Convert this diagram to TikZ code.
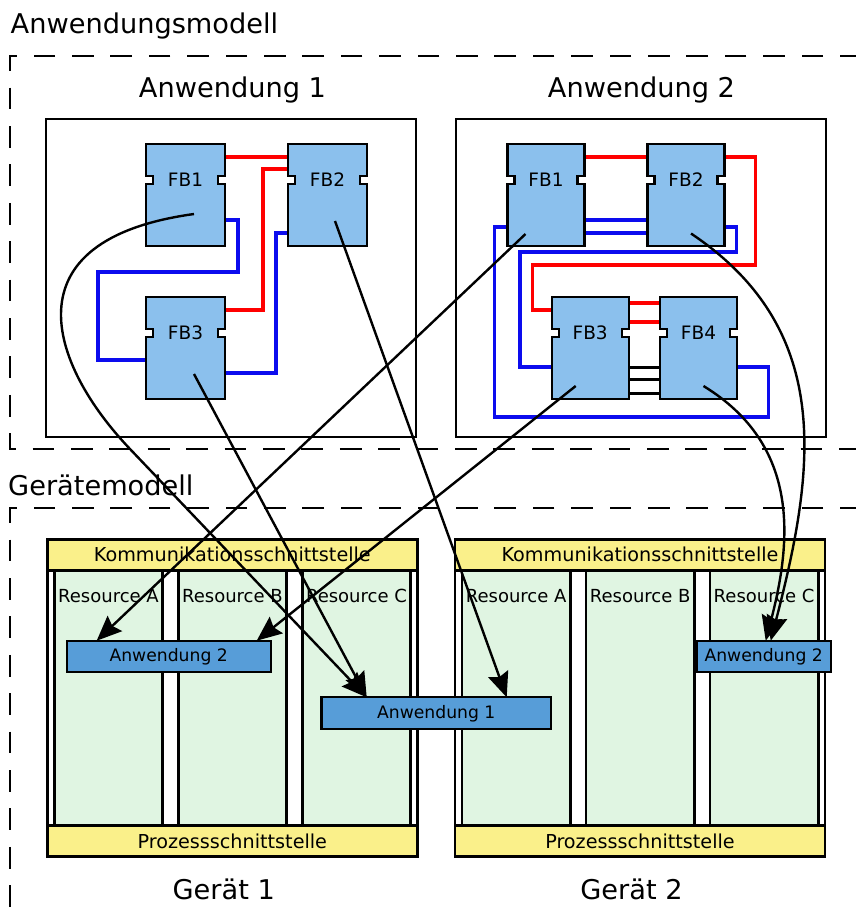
\documentclass[tikz,border=0pt]{standalone}
\usepackage{fontspec}
\setmainfont{DejaVu Sans}
\usetikzlibrary{arrows.meta,calc}

\definecolor{fbblue}{RGB}{139,192,237}
\definecolor{appblue}{RGB}{87,157,216}
\definecolor{ifyellow}{RGB}{250,240,138}
\definecolor{resgreen}{RGB}{224,245,226}
\definecolor{wirered}{RGB}{255,0,0}
\definecolor{wireblue}{RGB}{12,12,238}

\newcommand{\fsTitle}{\fontsize{27.2}{32}\selectfont}
\newcommand{\fsFB}{\fontsize{18.5}{22}\selectfont}
\newcommand{\fsBar}{\fontsize{19.2}{23}\selectfont}
\newcommand{\fsRes}{\fontsize{18}{21}\selectfont}
\newcommand{\fsApp}{\fontsize{17.2}{20}\selectfont}

\tikzset{
  model/.style={line width=2.8pt, dash pattern=on 21.7pt off 16.7pt},
  appframe/.style={draw, line width=2.5pt, inner sep=0pt, outer sep=0pt},
  fbnode/.style={inner sep=0pt, outer sep=0pt, minimum height=102pt},
  fbshape/.style={draw, fill=fbblue, line width=2.3pt, line join=miter},
  fblabel/.style={anchor=base, inner sep=0pt, font=\fsFB},
  title/.style={anchor=base, inner sep=0pt, font=\fsTitle},
  redwire/.style={draw=wirered, line width=3.1pt},
  bluewire/.style={draw=wireblue, line width=3.1pt},
  blackwire/.style={draw=black, line width=3pt},
  devframe/.style={draw, fill=white, line width=2.5pt, inner sep=0pt, outer sep=0pt,
    minimum width=370pt, minimum height=317.4pt, anchor=north west},
  ifbar/.style={draw, fill=ifyellow, line width=2.5pt, inner sep=0pt, outer sep=0pt,
    minimum width=370pt, minimum height=31pt, font=\fsBar},
  rescol/.style={draw, fill=resgreen, line width=2.5pt, inner sep=0pt, outer sep=0pt,
    minimum width=108.3pt, minimum height=255pt, anchor=north west},
  reslabel/.style={anchor=base, inner sep=0pt, font=\fsRes},
  appbox/.style={draw, fill=appblue, line width=2.3pt, inner sep=0pt, outer sep=0pt,
    minimum height=31.5pt, anchor=north west, font=\fsApp},
  maps/.style={draw=black, line width=2.4pt,
    -{Stealth[length=25pt, width=21pt, inset=3.5pt]}},
}

% function block with a notch on each side: name, left, top, width, label
\newcommand{\fblock}[5]{%
  \node[fbnode, minimum width=#4pt, anchor=north west] (#1) at (#2,#3) {};
  \draw[fbshape] (#1.north west) -- (#1.north east) -- ++(0,32) -- ++(-7,0)
    -- ++(0,8) -- ++(7,0) -- (#1.south east) -- (#1.south west) -- ++(0,-62)
    -- ++(7,0) -- ++(0,-8) -- ++(-7,0) -- cycle;
  \node[fblabel] (#1t) at ($(#1.north)+(0,42.7)$) {#5};
}

% device with communication bar, three resources and process bar: name, left, title
\newcommand{\device}[3]{%
  \node[devframe] (#1) at (#2,539.3) {};
  \node[rescol] (#1a) at ($(#1.north west)+(7,30.7)$) {};
  \node[rescol] (#1b) at ($(#1.north west)+(131,30.7)$) {};
  \node[rescol] (#1c) at ($(#1.north west)+(255,30.7)$) {};
  \node[ifbar, anchor=north west] (#1k) at (#1.north west) {Kommunikationsschnittstelle};
  \node[ifbar, anchor=south west] (#1p) at (#1.south west) {Prozessschnittstelle};
  \node[reslabel] (#1at) at ($(#1a.north)+(0,32)$) {Resource A};
  \node[reslabel] (#1bt) at ($(#1b.north)+(0,32)$) {Resource B};
  \node[reslabel] (#1ct) at ($(#1c.north)+(0,32)$) {Resource C};
  \node[title] (#1t) at ($(#1.south)+(-8.5,42.3)$) {#3};
}

\begin{document}
\begin{tikzpicture}[x=1pt, y=-1pt]
\useasboundingbox (0,0) rectangle (855,919);

% ---------- application model ----------
\node[title, anchor=base west] (amtitle) at (10.5,33.5) {Anwendungsmodell};
\draw[model] (900,56) -- (10,56) -- (10,449) -- (900,449);

\node[appframe, minimum width=370pt, minimum height=318pt, anchor=north west] (app1) at (46,119) {};
\node[appframe, minimum width=370pt, minimum height=318pt, anchor=north west] (app2) at (456,119) {};
\node[title] (app1t) at ($(app1.north)+(1.5,-21.3)$) {Anwendung 1};
\node[title] (app2t) at ($(app2.north)+(0.5,-21.3)$) {Anwendung 2};

% placeholders first so that the wires can refer to them
\foreach \n/\x/\y/\w in {a1fb1/146/144/79, a1fb2/288/144/79, a1fb3/146/297/79,
    a2fb1/507.5/144/77, a2fb2/647.5/144/77, a2fb3/551.7/297/77, a2fb4/660/297/77}
  \node[fbnode, minimum width=\w pt, anchor=north west] (\n) at (\x,\y) {};

% wires of application 1
\draw[redwire] ($(a1fb1.north east)+(0,13)$) -- ($(a1fb2.north west)+(0,13)$);
\draw[redwire] ($(a1fb3.north east)+(0,13)$) -- ++(38,0) |- ($(a1fb2.north west)+(0,25)$);
\draw[bluewire] ($(a1fb1.north east)+(0,76)$) -- ++(13,0) -- ++(0,52) -- ++(-140,0)
  |- ($(a1fb3.north west)+(0,63)$);
\draw[bluewire] ($(a1fb3.north east)+(0,76)$) -- ++(51,0) |- ($(a1fb2.north west)+(0,89)$);

% wires of application 2
\draw[redwire] ($(a2fb1.north east)+(0,13)$) -- ($(a2fb2.north west)+(0,13)$);
\draw[redwire] ($(a2fb2.north east)+(0,13)$) -- ++(31,0) -- ++(0,108) -- ++(-223,0)
  |- ($(a2fb3.north west)+(0,13)$);
\draw[redwire] ($(a2fb3.north east)+(0,6)$) -- ($(a2fb4.north west)+(0,6)$);
\draw[redwire] ($(a2fb3.north east)+(0,25)$) -- ($(a2fb4.north west)+(0,25)$);
\draw[bluewire] ($(a2fb1.north east)+(0,76)$) -- ($(a2fb2.north west)+(0,76)$);
\draw[bluewire] ($(a2fb1.north east)+(0,89)$) -- ($(a2fb2.north west)+(0,89)$);
\draw[bluewire] ($(a2fb1.north west)+(0,83)$) -- ++(-13,0) -- ++(0,190) -- ++(274,0)
  |- ($(a2fb4.north east)+(0,70)$);
\draw[bluewire] ($(a2fb2.north east)+(0,83)$) -- ++(12,0) -- ++(0,25) -- ++(-216.5,0)
  |- ($(a2fb3.north west)+(0,70)$);
\foreach \d in {70,82,96}
  \draw[blackwire] ($(a2fb3.north east)+(0,\d)$) -- ($(a2fb4.north west)+(0,\d)$);

% function blocks
\fblock{a1fb1}{146}{144}{79}{FB1}
\fblock{a1fb2}{288}{144}{79}{FB2}
\fblock{a1fb3}{146}{297}{79}{FB3}
\fblock{a2fb1}{507.5}{144}{77}{FB1}
\fblock{a2fb2}{647.5}{144}{77}{FB2}
\fblock{a2fb3}{551.7}{297}{77}{FB3}
\fblock{a2fb4}{660}{297}{77}{FB4}

% ---------- device model ----------
\node[title, anchor=base west] (dmtitle) at (8,495) {Gerätemodell};
\draw[model] (900,508) -- (10,508) -- (10,950);

\device{dev1}{47.3}{Gerät 1}
\device{dev2}{455}{Gerät 2}

\node[appbox, minimum width=204pt] (d1app2) at (66.7,640.7) {Anwendung 2};
\node[appbox, minimum width=229.5pt, minimum height=32pt] (dapp1) at (321.5,697.3) {Anwendung 1};
\node[appbox, minimum width=134pt] (d2app2) at (696.7,640.7) {Anwendung 2};

% ---------- mapping of function blocks onto devices ----------
\coordinate (s1) at ($(a1fb1.north west)+(48,70)$);
\coordinate (s2) at ($(a1fb3.north west)+(48,77)$);
\coordinate (s3) at ($(a1fb2.north west)+(47,77)$);
\coordinate (s4) at ($(a2fb1.north west)+(18,90)$);
\coordinate (s5) at ($(a2fb3.north west)+(24,89)$);
\coordinate (s6) at ($(a2fb2.north west)+(43.5,89.5)$);
\coordinate (s7) at ($(a2fb4.north west)+(43.5,89)$);

\draw[maps] (s1) .. controls (5,240) and (50,365) .. (130,449) -- ($(dapp1.north west)+(45.2,0)$);
\draw[maps] (s2) -- ($(dapp1.north west)+(45.2,0)$);
\draw[maps] (s3) -- ($(dapp1.north west)+(185.2,0)$);
\draw[maps] (s4) -- ($(d1app2.north west)+(30,0)$);
\draw[maps] (s5) -- ($(d1app2.north west)+(190,0)$);
\draw[maps] (s6) .. controls (835,330) and (815,470) .. ($(d2app2.north west)+(74,0)$);
\draw[maps] (s7) .. controls (800,445) and (792,540) .. ($(d2app2.north west)+(69,0)$);
\end{tikzpicture}
\end{document}
